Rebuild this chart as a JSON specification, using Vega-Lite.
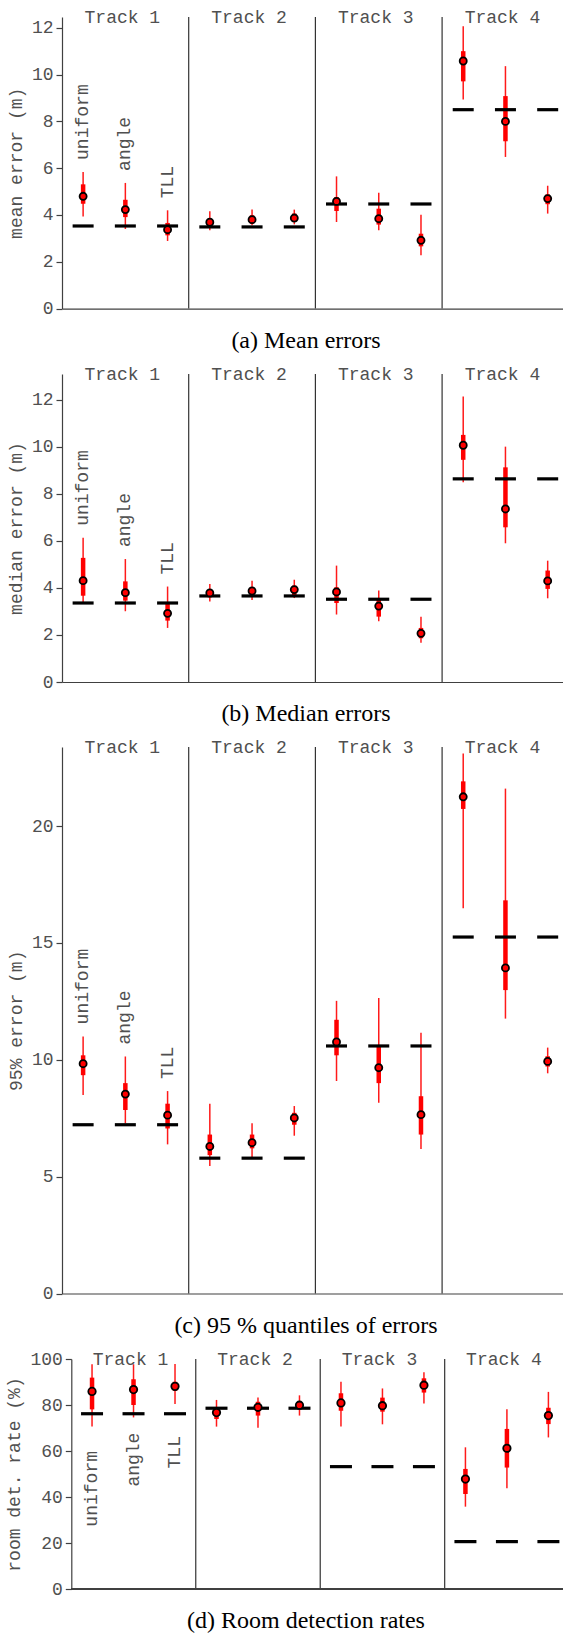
{
  "$schema": "https://vega.github.io/schema/vega-lite/v6.json",
  "padding": {"top": 8, "left": 5, "right": 0, "bottom": 0},
  "spacing": 12,
  "columns": 1,
  "datasets": {
    "a": [
      {"track": 1, "method": "uniform", "slot": 0.5, "lo": 3.94, "q1": 4.48, "val": 4.80, "q3": 5.31, "hi": 5.84, "base": 3.53},
      {"track": 1, "method": "angle", "slot": 1.5, "lo": 3.40, "q1": 3.91, "val": 4.23, "q3": 4.65, "hi": 5.37, "base": 3.53},
      {"track": 1, "method": "TLL", "slot": 2.5, "lo": 2.89, "q1": 3.13, "val": 3.37, "q3": 3.66, "hi": 4.20, "base": 3.53},
      {"track": 2, "method": "uniform", "slot": 3.5, "lo": 3.35, "q1": 3.49, "val": 3.69, "q3": 3.84, "hi": 4.16, "base": 3.49},
      {"track": 2, "method": "angle", "slot": 4.5, "lo": 3.56, "q1": 3.63, "val": 3.80, "q3": 3.99, "hi": 4.23, "base": 3.49},
      {"track": 2, "method": "TLL", "slot": 5.5, "lo": 3.60, "q1": 3.70, "val": 3.87, "q3": 4.06, "hi": 4.23, "base": 3.49},
      {"track": 3, "method": "uniform", "slot": 6.5, "lo": 3.70, "q1": 4.17, "val": 4.58, "q3": 4.77, "hi": 5.65, "base": 4.47},
      {"track": 3, "method": "angle", "slot": 7.5, "lo": 3.35, "q1": 3.59, "val": 3.84, "q3": 4.27, "hi": 4.95, "base": 4.47},
      {"track": 3, "method": "TLL", "slot": 8.5, "lo": 2.28, "q1": 2.66, "val": 2.92, "q3": 3.20, "hi": 4.01, "base": 4.47},
      {"track": 4, "method": "uniform", "slot": 9.5, "lo": 8.93, "q1": 9.71, "val": 10.58, "q3": 11.0, "hi": 12.06, "base": 8.50},
      {"track": 4, "method": "angle", "slot": 10.5, "lo": 6.48, "q1": 7.15, "val": 8.0, "q3": 9.08, "hi": 10.36, "base": 8.50},
      {"track": 4, "method": "TLL", "slot": 11.5, "lo": 4.06, "q1": 4.46, "val": 4.70, "q3": 4.88, "hi": 5.25, "base": 8.50}
    ],
    "b": [
      {"track": 1, "method": "uniform", "slot": 0.5, "lo": 3.39, "q1": 3.67, "val": 4.31, "q3": 5.28, "hi": 6.13, "base": 3.36},
      {"track": 1, "method": "angle", "slot": 1.5, "lo": 3.01, "q1": 3.46, "val": 3.80, "q3": 4.28, "hi": 5.23, "base": 3.36},
      {"track": 1, "method": "TLL", "slot": 2.5, "lo": 2.30, "q1": 2.61, "val": 2.92, "q3": 3.32, "hi": 4.06, "base": 3.36},
      {"track": 2, "method": "uniform", "slot": 3.5, "lo": 3.42, "q1": 3.60, "val": 3.79, "q3": 3.91, "hi": 4.17, "base": 3.66},
      {"track": 2, "method": "angle", "slot": 4.5, "lo": 3.49, "q1": 3.63, "val": 3.87, "q3": 4.03, "hi": 4.31, "base": 3.66},
      {"track": 2, "method": "TLL", "slot": 5.5, "lo": 3.57, "q1": 3.67, "val": 3.93, "q3": 4.10, "hi": 4.35, "base": 3.66},
      {"track": 3, "method": "uniform", "slot": 6.5, "lo": 2.87, "q1": 3.36, "val": 3.83, "q3": 4.03, "hi": 4.95, "base": 3.52},
      {"track": 3, "method": "angle", "slot": 7.5, "lo": 2.58, "q1": 2.78, "val": 3.23, "q3": 3.53, "hi": 3.89, "base": 3.52},
      {"track": 3, "method": "TLL", "slot": 8.5, "lo": 1.67, "q1": 1.86, "val": 2.07, "q3": 2.30, "hi": 2.78, "base": 3.52},
      {"track": 4, "method": "uniform", "slot": 9.5, "lo": 8.50, "q1": 9.45, "val": 10.07, "q3": 10.51, "hi": 12.14, "base": 8.64},
      {"track": 4, "method": "angle", "slot": 10.5, "lo": 5.90, "q1": 6.58, "val": 7.36, "q3": 9.13, "hi": 10.01, "base": 8.64},
      {"track": 4, "method": "TLL", "slot": 11.5, "lo": 3.56, "q1": 3.96, "val": 4.30, "q3": 4.74, "hi": 5.16, "base": 8.64}
    ],
    "c": [
      {"track": 1, "method": "uniform", "slot": 0.5, "lo": 8.49, "q1": 9.34, "val": 9.83, "q3": 10.19, "hi": 11.0, "base": 7.22},
      {"track": 1, "method": "angle", "slot": 1.5, "lo": 7.28, "q1": 7.85, "val": 8.53, "q3": 9.0, "hi": 10.14, "base": 7.22},
      {"track": 1, "method": "TLL", "slot": 2.5, "lo": 6.38, "q1": 7.06, "val": 7.63, "q3": 8.12, "hi": 8.66, "base": 7.22},
      {"track": 2, "method": "uniform", "slot": 3.5, "lo": 5.45, "q1": 5.92, "val": 6.29, "q3": 6.80, "hi": 8.12, "base": 5.79},
      {"track": 2, "method": "angle", "slot": 4.5, "lo": 5.79, "q1": 6.21, "val": 6.45, "q3": 6.80, "hi": 7.28, "base": 5.79},
      {"track": 2, "method": "TLL", "slot": 5.5, "lo": 6.75, "q1": 7.22, "val": 7.51, "q3": 7.73, "hi": 8.02, "base": 5.79},
      {"track": 3, "method": "uniform", "slot": 6.5, "lo": 9.09, "q1": 10.19, "val": 10.76, "q3": 11.71, "hi": 12.52, "base": 10.59},
      {"track": 3, "method": "angle", "slot": 7.5, "lo": 8.16, "q1": 9.0, "val": 9.66, "q3": 10.61, "hi": 12.64, "base": 10.59},
      {"track": 3, "method": "TLL", "slot": 8.5, "lo": 6.18, "q1": 6.80, "val": 7.65, "q3": 8.44, "hi": 11.15, "base": 10.59},
      {"track": 4, "method": "uniform", "slot": 9.5, "lo": 16.48, "q1": 20.73, "val": 21.25, "q3": 21.91, "hi": 23.1, "base": 15.25},
      {"track": 4, "method": "angle", "slot": 10.5, "lo": 11.76, "q1": 12.98, "val": 13.93, "q3": 16.82, "hi": 21.6, "base": 15.25},
      {"track": 4, "method": "TLL", "slot": 11.5, "lo": 9.42, "q1": 9.71, "val": 9.93, "q3": 10.15, "hi": 10.52, "base": 15.25}
    ],
    "d": [
      {"track": 1, "method": "uniform", "slot": 0.5, "lo": 70.6, "q1": 78.1, "val": 85.9, "q3": 91.9, "hi": 97.7, "base": 76.2},
      {"track": 1, "method": "angle", "slot": 1.5, "lo": 74.6, "q1": 80.0, "val": 86.7, "q3": 91.2, "hi": 97.7, "base": 76.2},
      {"track": 1, "method": "TLL", "slot": 2.5, "lo": 80.4, "q1": 86.2, "val": 88.1, "q3": 90.1, "hi": 97.8, "base": 76.2},
      {"track": 2, "method": "uniform", "slot": 3.5, "lo": 70.6, "q1": 73.9, "val": 76.7, "q3": 79.0, "hi": 82.2, "base": 78.6},
      {"track": 2, "method": "angle", "slot": 4.5, "lo": 70.1, "q1": 75.4, "val": 79.0, "q3": 81.4, "hi": 83.3, "base": 78.6},
      {"track": 2, "method": "TLL", "slot": 5.5, "lo": 75.4, "q1": 78.1, "val": 79.9, "q3": 81.4, "hi": 84.2, "base": 78.6},
      {"track": 3, "method": "uniform", "slot": 6.5, "lo": 70.6, "q1": 77.5, "val": 80.9, "q3": 85.1, "hi": 90.1, "base": 53.2},
      {"track": 3, "method": "angle", "slot": 7.5, "lo": 71.6, "q1": 77.1, "val": 79.7, "q3": 83.2, "hi": 87.2, "base": 53.2},
      {"track": 3, "method": "TLL", "slot": 8.5, "lo": 80.7, "q1": 85.4, "val": 88.6, "q3": 91.6, "hi": 94.2, "base": 53.2},
      {"track": 4, "method": "uniform", "slot": 9.5, "lo": 35.8, "q1": 41.3, "val": 47.8, "q3": 52.2, "hi": 61.6, "base": 20.6},
      {"track": 4, "method": "angle", "slot": 10.5, "lo": 43.8, "q1": 52.8, "val": 61.2, "q3": 69.6, "hi": 78.1, "base": 20.6},
      {"track": 4, "method": "TLL", "slot": 11.5, "lo": 65.9, "q1": 71.7, "val": 75.4, "q3": 78.8, "hi": 85.7, "base": 20.6}
    ],
    "dlabels": [
      {"method": "uniform", "slot": 0.5, "at": 60},
      {"method": "angle", "slot": 1.5, "at": 68},
      {"method": "TLL", "slot": 2.5, "at": 66.5}
    ],
    "seps": [{"sep": 3}, {"sep": 6}, {"sep": 9}],
    "tracks": [
      {"track": "Track 1", "center": 1.5},
      {"track": "Track 2", "center": 4.5},
      {"track": "Track 3", "center": 7.5},
      {"track": "Track 4", "center": 10.5}
    ]
  },
  "concat": [
    {
      "width": 503, "height": 291.6,
      "title": {"text": "(a) Mean errors", "dx": -7.5},
      "layer": [
        {"data": {"name": "seps"}, "mark": {"type": "rule", "color": "#333333", "strokeWidth": 1.2},
         "encoding": {"x": {"field": "sep", "type": "quantitative", "scale": {"domain": [0, 11.91], "nice": false, "zero": false}, "title": null}}},
        {"data": {"name": "a"}, "mark": {"type": "rule", "color": "#ff1a1a", "strokeWidth": 1.5},
         "encoding": {"x": {"field": "slot", "type": "quantitative", "title": null}, "y": {"field": "lo", "type": "quantitative", "scale": {"domain": [0, 12.46], "nice": false}, "axis": {"values": [0, 2, 4, 6, 8, 10, 12]}, "title": "mean error (m)"}, "y2": {"field": "hi"}}},
        {"data": {"name": "a"}, "mark": {"type": "rule", "color": "#ff0000", "strokeWidth": 4.5},
         "encoding": {"x": {"field": "slot", "type": "quantitative", "title": null}, "y": {"field": "q1", "type": "quantitative", "title": "mean error (m)"}, "y2": {"field": "q3"}}},
        {"data": {"name": "a"}, "mark": {"type": "tick", "orient": "horizontal", "size": 21, "thickness": 3.2, "color": "#000000", "opacity": 1},
         "encoding": {"x": {"field": "slot", "type": "quantitative", "title": null}, "y": {"field": "base", "type": "quantitative", "title": "mean error (m)"}}},
        {"data": {"name": "a"}, "mark": {"type": "point", "filled": true, "fill": "#ff0000", "stroke": "#000000", "strokeWidth": 1.8, "size": 50, "opacity": 1},
         "encoding": {"x": {"field": "slot", "type": "quantitative", "title": null}, "y": {"field": "val", "type": "quantitative", "title": "mean error (m)"}}},
        {"data": {"name": "a"}, "transform": [{"filter": "datum.track == 1"}], "mark": {"type": "text", "angle": 270, "align": "left", "baseline": "middle", "dx": 12, "font": "Liberation Mono", "fontSize": 18, "color": "#505050"},
         "encoding": {"x": {"field": "slot", "type": "quantitative", "title": null}, "y": {"field": "hi", "type": "quantitative", "title": "mean error (m)"}, "text": {"field": "method"}}},
        {"data": {"name": "tracks"}, "mark": {"type": "text", "align": "center", "baseline": "alphabetic", "dy": 5.5, "dx": -3, "font": "Liberation Mono", "fontSize": 18, "color": "#505050"},
         "encoding": {"x": {"field": "center", "type": "quantitative", "title": null}, "y": {"datum": 12.46, "type": "quantitative"}, "text": {"field": "track"}}}
      ]
    },
    {
      "width": 503, "height": 308,
      "title": {"text": "(b) Median errors", "dx": -7.5},
      "layer": [
        {"data": {"name": "seps"}, "mark": {"type": "rule", "color": "#333333", "strokeWidth": 1.2},
         "encoding": {"x": {"field": "sep", "type": "quantitative", "scale": {"domain": [0, 11.91], "nice": false, "zero": false}, "title": null}}},
        {"data": {"name": "b"}, "mark": {"type": "rule", "color": "#ff1a1a", "strokeWidth": 1.5},
         "encoding": {"x": {"field": "slot", "type": "quantitative", "title": null}, "y": {"field": "lo", "type": "quantitative", "scale": {"domain": [0, 13.1], "nice": false}, "axis": {"values": [0, 2, 4, 6, 8, 10, 12]}, "title": "median error (m)"}, "y2": {"field": "hi"}}},
        {"data": {"name": "b"}, "mark": {"type": "rule", "color": "#ff0000", "strokeWidth": 4.5},
         "encoding": {"x": {"field": "slot", "type": "quantitative", "title": null}, "y": {"field": "q1", "type": "quantitative", "title": "median error (m)"}, "y2": {"field": "q3"}}},
        {"data": {"name": "b"}, "mark": {"type": "tick", "orient": "horizontal", "size": 21, "thickness": 3.2, "color": "#000000", "opacity": 1},
         "encoding": {"x": {"field": "slot", "type": "quantitative", "title": null}, "y": {"field": "base", "type": "quantitative", "title": "median error (m)"}}},
        {"data": {"name": "b"}, "mark": {"type": "point", "filled": true, "fill": "#ff0000", "stroke": "#000000", "strokeWidth": 1.8, "size": 50, "opacity": 1},
         "encoding": {"x": {"field": "slot", "type": "quantitative", "title": null}, "y": {"field": "val", "type": "quantitative", "title": "median error (m)"}}},
        {"data": {"name": "b"}, "transform": [{"filter": "datum.track == 1"}], "mark": {"type": "text", "angle": 270, "align": "left", "baseline": "middle", "dx": 12, "font": "Liberation Mono", "fontSize": 18, "color": "#505050"},
         "encoding": {"x": {"field": "slot", "type": "quantitative", "title": null}, "y": {"field": "hi", "type": "quantitative", "title": "median error (m)"}, "text": {"field": "method"}}},
        {"data": {"name": "tracks"}, "mark": {"type": "text", "align": "center", "baseline": "alphabetic", "dy": 5.5, "dx": -3, "font": "Liberation Mono", "fontSize": 18, "color": "#505050"},
         "encoding": {"x": {"field": "center", "type": "quantitative", "title": null}, "y": {"datum": 13.1, "type": "quantitative"}, "text": {"field": "track"}}}
      ]
    },
    {
      "width": 503, "height": 546.5,
      "title": {"text": "(c) 95 % quantiles of errors", "dx": -7.5},
      "layer": [
        {"data": {"name": "seps"}, "mark": {"type": "rule", "color": "#333333", "strokeWidth": 1.2},
         "encoding": {"x": {"field": "sep", "type": "quantitative", "scale": {"domain": [0, 11.91], "nice": false, "zero": false}, "title": null}}},
        {"data": {"name": "c"}, "mark": {"type": "rule", "color": "#ff1a1a", "strokeWidth": 1.5},
         "encoding": {"x": {"field": "slot", "type": "quantitative", "title": null}, "y": {"field": "lo", "type": "quantitative", "scale": {"domain": [0, 23.38], "nice": false}, "axis": {"values": [0, 5, 10, 15, 20]}, "title": "95% error (m)"}, "y2": {"field": "hi"}}},
        {"data": {"name": "c"}, "mark": {"type": "rule", "color": "#ff0000", "strokeWidth": 4.5},
         "encoding": {"x": {"field": "slot", "type": "quantitative", "title": null}, "y": {"field": "q1", "type": "quantitative", "title": "95% error (m)"}, "y2": {"field": "q3"}}},
        {"data": {"name": "c"}, "mark": {"type": "tick", "orient": "horizontal", "size": 21, "thickness": 3.2, "color": "#000000", "opacity": 1},
         "encoding": {"x": {"field": "slot", "type": "quantitative", "title": null}, "y": {"field": "base", "type": "quantitative", "title": "95% error (m)"}}},
        {"data": {"name": "c"}, "mark": {"type": "point", "filled": true, "fill": "#ff0000", "stroke": "#000000", "strokeWidth": 1.8, "size": 50, "opacity": 1},
         "encoding": {"x": {"field": "slot", "type": "quantitative", "title": null}, "y": {"field": "val", "type": "quantitative", "title": "95% error (m)"}}},
        {"data": {"name": "c"}, "transform": [{"filter": "datum.track == 1"}], "mark": {"type": "text", "angle": 270, "align": "left", "baseline": "middle", "dx": 12, "font": "Liberation Mono", "fontSize": 18, "color": "#505050"},
         "encoding": {"x": {"field": "slot", "type": "quantitative", "title": null}, "y": {"field": "hi", "type": "quantitative", "title": "95% error (m)"}, "text": {"field": "method"}}},
        {"data": {"name": "tracks"}, "mark": {"type": "text", "align": "center", "baseline": "alphabetic", "dy": 5.5, "dx": -3, "font": "Liberation Mono", "fontSize": 18, "color": "#505050"},
         "encoding": {"x": {"field": "center", "type": "quantitative", "title": null}, "y": {"datum": 23.38, "type": "quantitative"}, "text": {"field": "track"}}}
      ]
    },
    {
      "width": 503, "height": 230,
      "title": {"text": "(d) Room detection rates", "dx": -7.5},
      "layer": [
        {"data": {"name": "seps"}, "mark": {"type": "rule", "color": "#333333", "strokeWidth": 1.2},
         "encoding": {"x": {"field": "sep", "type": "quantitative", "scale": {"domain": [-0.224, 11.9], "nice": false, "zero": false}, "axis": {"domain": false}, "title": null}}},
        {"data": {"name": "d"}, "mark": {"type": "rule", "color": "#ff1a1a", "strokeWidth": 1.5},
         "encoding": {"x": {"field": "slot", "type": "quantitative", "title": null}, "y": {"field": "lo", "type": "quantitative", "scale": {"domain": [0, 100], "nice": false}, "axis": {"values": [0, 20, 40, 60, 80, 100], "offset": -9.3}, "title": "room det. rate (%)"}, "y2": {"field": "hi"}}},
        {"data": {"name": "d"}, "mark": {"type": "rule", "color": "#404040", "strokeWidth": 1.2},
         "encoding": {"x": {"datum": 0, "type": "quantitative"}, "x2": {"datum": 11.9}, "y": {"datum": 0, "type": "quantitative"}}},
        {"data": {"name": "d"}, "mark": {"type": "rule", "color": "#ff0000", "strokeWidth": 4.5},
         "encoding": {"x": {"field": "slot", "type": "quantitative", "title": null}, "y": {"field": "q1", "type": "quantitative", "title": "room det. rate (%)"}, "y2": {"field": "q3"}}},
        {"data": {"name": "d"}, "mark": {"type": "tick", "orient": "horizontal", "size": 22, "thickness": 3.2, "color": "#000000", "opacity": 1},
         "encoding": {"x": {"field": "slot", "type": "quantitative", "title": null}, "y": {"field": "base", "type": "quantitative", "title": "room det. rate (%)"}}},
        {"data": {"name": "d"}, "mark": {"type": "point", "filled": true, "fill": "#ff0000", "stroke": "#000000", "strokeWidth": 1.8, "size": 55, "opacity": 1},
         "encoding": {"x": {"field": "slot", "type": "quantitative", "title": null}, "y": {"field": "val", "type": "quantitative", "title": "room det. rate (%)"}}},
        {"data": {"name": "dlabels"}, "mark": {"type": "text", "angle": 270, "align": "right", "baseline": "middle", "font": "Liberation Mono", "fontSize": 18, "color": "#505050"},
         "encoding": {"x": {"field": "slot", "type": "quantitative", "title": null}, "y": {"field": "at", "type": "quantitative", "title": "room det. rate (%)"}, "text": {"field": "method"}}},
        {"data": {"name": "tracks"}, "mark": {"type": "text", "align": "center", "baseline": "alphabetic", "dy": 6, "dx": -3, "font": "Liberation Mono", "fontSize": 18, "color": "#505050"},
         "encoding": {"x": {"field": "center", "type": "quantitative", "title": null}, "y": {"datum": 100, "type": "quantitative"}, "text": {"field": "track"}}}
      ]
    }
  ],
  "config": {
    "view": {"stroke": null},
    "axisX": {"domain": true, "ticks": false, "labels": false, "grid": false, "domainColor": "#404040", "domainWidth": 1.2},
    "axisY": {"grid": false, "domainColor": "#404040", "domainWidth": 1.2, "tickColor": "#404040", "tickSize": 6, "tickWidth": 1.2, "labelFont": "Liberation Mono", "labelFontSize": 18, "labelColor": "#505050", "labelPadding": 3, "titleFont": "Liberation Mono", "titleFontSize": 18, "titleFontWeight": "normal", "titleColor": "#505050", "titlePadding": 6},
    "title": {"orient": "bottom", "anchor": "middle", "font": "Liberation Serif", "fontSize": 24, "fontWeight": "normal", "color": "#000000", "offset": 11}
  }
}
